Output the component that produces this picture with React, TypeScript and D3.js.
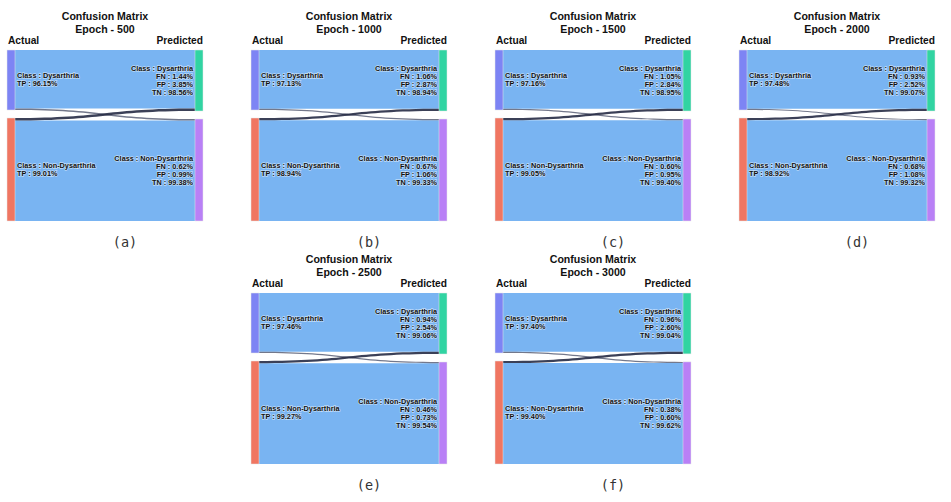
import { scaleLinear } from "d3";

// one entry per panel
const epochs = [500, 1000, 1500, 2000, 2500, 3000];
const panelLetters = ["a", "b", "c", "d", "e", "f"];

const dysToDys = [58.5, 58.7, 58.7, 58.8, 58.8, 58.8];
const dysToNon = [1.5, 1.3, 1.3, 1.2, 1.2, 1.2];
const nonToDys = [2.5, 2.3, 2.3, 2.2, 2.2, 2.1];
const nonToNon = [100.5, 100.7, 100.7, 100.8, 100.8, 100.9];

// label percentages
const dysTP = ["96.15", "97.13", "97.16", "97.48", "97.46", "97.40"];
const nonTP = ["99.01", "98.94", "99.05", "98.92", "99.27", "99.40"];
const dysFN = ["1.44", "1.06", "1.05", "0.93", "0.94", "0.96"];
const dysFP = ["3.85", "2.87", "2.84", "2.52", "2.54", "2.60"];
const dysTN = ["98.56", "98.94", "98.95", "99.07", "99.06", "99.04"];
const nonFN = ["0.62", "0.67", "0.60", "0.68", "0.46", "0.38"];
const nonFP = ["0.99", "1.06", "0.95", "1.08", "0.73", "0.60"];
const nonTN = ["99.38", "99.33", "99.40", "99.32", "99.54", "99.62"];

const panelOrigins: [number, number][] = [
  [7, 50],
  [251, 50],
  [495, 50],
  [739, 50],
  [251, 293],
  [495, 293],
];

const panelWidth = 196;
const panelHeight = 171;
const nodeWidth = 8;
const nodeGap = 8;
const colors = {
  dysActual: "#7d84f4",
  nonActual: "#f07662",
  dysPred: "#31d4a2",
  nonPred: "#b980f6",
  link: "#79b4f2",
};
const labelFont = "'Liberation Sans', Arial, sans-serif";

function ribbon(x0: number, x1: number, a0: number, a1: number, b0: number, b1: number) {
  const xm = (x0 + x1) / 2;
  return `M${x0},${a0}C${xm},${a0} ${xm},${b0} ${x1},${b0}L${x1},${b1}C${xm},${b1} ${xm},${a1} ${x0},${a1}Z`;
}

function NodeLabel({ x, cy, lines, anchor }: { x: number; cy: number; lines: string[]; anchor: "start" | "end" }) {
  const start = cy - ((lines.length - 1) * 8) / 2 + 2.6;
  return (
    <text
      x={x}
      textAnchor={anchor}
      fontFamily={labelFont}
      fontWeight="bold"
      fontSize={7.3}
      fill="#111"
      stroke="#fff"
      strokeWidth={1.3}
      strokeOpacity={0.55}
      paintOrder="stroke"
    >
      {lines.map((line, i) => (
        <tspan key={i} x={x} y={start + i * 8}>
          {line}
        </tspan>
      ))}
    </text>
  );
}

function Panel({ index }: { index: number }) {
  const [px, py] = panelOrigins[index];
  const dd = dysToDys[index];
  const dn = dysToNon[index];
  const nd = nonToDys[index];
  const nn = nonToNon[index];
  const total = dd + dn + nd + nn;

  const y = scaleLinear().domain([0, total]).range([0, panelHeight - nodeGap]);
  const top = py;
  const bottom = py + panelHeight;
  const leftSplit = top + y(dd + dn);
  const leftLower = leftSplit + nodeGap;
  const rightSplit = top + y(dd + nd);
  const rightLower = rightSplit + nodeGap;

  const xl = px + nodeWidth;
  const xr = px + panelWidth - nodeWidth;
  const cx = px + panelWidth / 2;

  return (
    <g>
      <text x={cx} y={py - 30} textAnchor="middle" fontFamily={labelFont} fontWeight="bold" fontSize={10.6} fill="#111">
        Confusion Matrix
      </text>
      <text x={cx} y={py - 17} textAnchor="middle" fontFamily={labelFont} fontWeight="bold" fontSize={10.6} fill="#111">
        {`Epoch - ${epochs[index]}`}
      </text>
      <text x={px + 1} y={py - 6} fontFamily={labelFont} fontWeight="bold" fontSize={10.2} fill="#111">
        Actual
      </text>
      <text x={px + panelWidth} y={py - 6} textAnchor="end" fontFamily={labelFont} fontWeight="bold" fontSize={10.2} fill="#111">
        Predicted
      </text>

      <path d={ribbon(xl, xr, top, top + y(dd), top, top + y(dd))} fill={colors.link} />
      <path d={ribbon(xl, xr, leftLower + y(nd), bottom, rightLower + y(dn), bottom)} fill={colors.link} />
      <path
        d={ribbon(xl, xr, top + y(dd), leftSplit, rightLower, rightLower + y(dn))}
        fill="#50566e"
        fillOpacity={0.8}
      />
      <path
        d={ribbon(xl, xr, leftLower, leftLower + y(nd), top + y(dd), rightSplit)}
        fill="#262b45"
        fillOpacity={0.9}
      />

      <rect x={px} y={top} width={nodeWidth} height={leftSplit - top} fill={colors.dysActual} stroke="#e6e6e6" strokeWidth={0.5} />
      <rect x={px} y={leftLower} width={nodeWidth} height={bottom - leftLower} fill={colors.nonActual} stroke="#e6e6e6" strokeWidth={0.5} />
      <rect x={xr} y={top} width={nodeWidth} height={rightSplit - top} fill={colors.dysPred} stroke="#e6e6e6" strokeWidth={0.5} />
      <rect x={xr} y={rightLower} width={nodeWidth} height={bottom - rightLower} fill={colors.nonPred} stroke="#e6e6e6" strokeWidth={0.5} />

      <NodeLabel
        x={xl + 2}
        cy={(top + leftSplit) / 2 - 0.5}
        anchor="start"
        lines={["Class : Dysarthria", `TP : ${dysTP[index]}%`]}
      />
      <NodeLabel
        x={xl + 2}
        cy={(leftLower + bottom) / 2}
        anchor="start"
        lines={["Class : Non-Dysarthria", `TP : ${nonTP[index]}%`]}
      />
      <NodeLabel
        x={xr - 2}
        cy={(top + rightSplit) / 2}
        anchor="end"
        lines={["Class : Dysarthria", `FN : ${dysFN[index]}%`, `FP : ${dysFP[index]}%`, `TN : ${dysTN[index]}%`]}
      />
      <NodeLabel
        x={xr - 2}
        cy={(rightLower + bottom) / 2}
        anchor="end"
        lines={["Class : Non-Dysarthria", `FN : ${nonFN[index]}%`, `FP : ${nonFP[index]}%`, `TN : ${nonTN[index]}%`]}
      />

      <text
        x={px + 118}
        y={py + 197}
        textAnchor="middle"
        fontFamily="'DejaVu Sans Mono', monospace"
        fontSize={13.5}
        fill="#333"
      >
        {`(${panelLetters[index]})`}
      </text>
    </g>
  );
}

export default function App() {
  return (
    <svg
      width={951}
      height={502}
      viewBox="0 0 951 502"
      style={{ position: "absolute", left: 0, top: 0, background: "#fff" }}
    >
      {epochs.map((_, i) => (
        <Panel key={epochs[i]} index={i} />
      ))}
    </svg>
  );
}
